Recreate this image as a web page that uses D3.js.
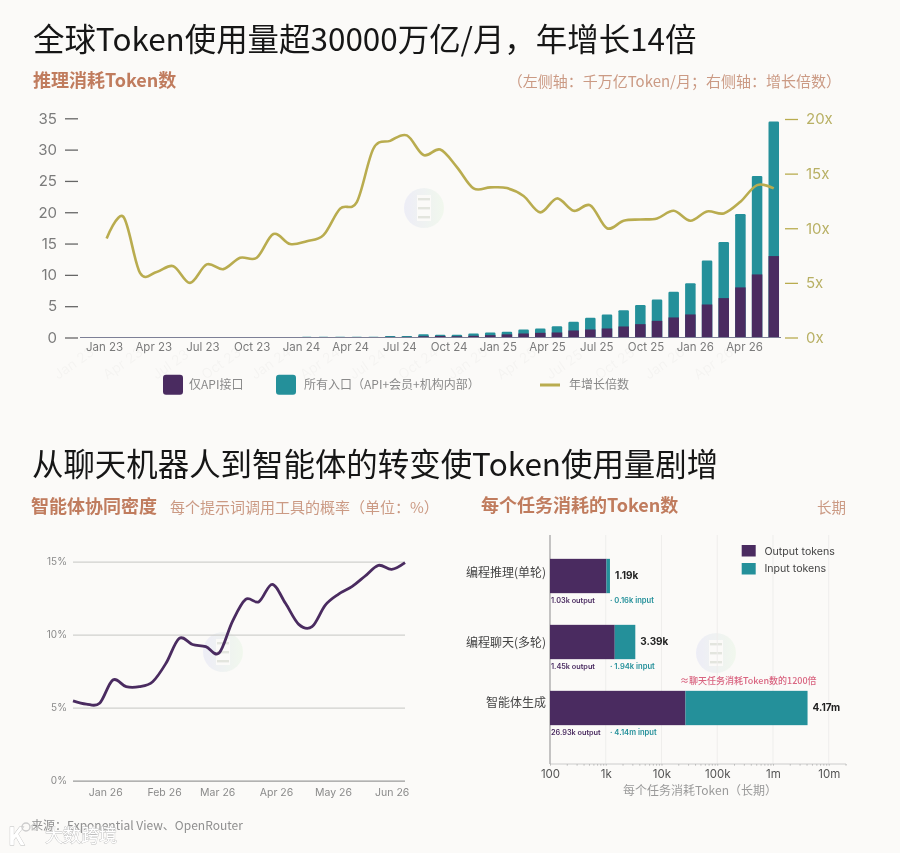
<!DOCTYPE html>
<html lang="zh"><head><meta charset="utf-8">
<script src="https://cdn.jsdelivr.net/npm/d3@7/dist/d3.min.js"></script>
<style>
html,body{margin:0;padding:0;background:#fbfaf8;width:900px;height:853px;overflow:hidden}
svg{display:block;filter:blur(.3px)}
text{font-family:"Noto Sans CJK SC","Noto Sans",sans-serif}
.lat text,text.lat{font-family:Inter,"Noto Sans CJK SC",sans-serif}
.domain{display:none}
</style></head><body><svg id="c" width="900" height="853"></svg>
<script>
// ---- Chart 1: inference tokens
const monthIndex = d3.range(0, 41);
const quarterLabels = ["Jan 23","Apr 23","Jul 23","Oct 23","Jan 24","Apr 24","Jul 24","Oct 24","Jan 25","Apr 25","Jul 25","Oct 25","Jan 26","Apr 26"];
const apiOnly = [0,0,0,0,0,0,0,0,0,0,0,0,.02,.02,.08,.08,.08,.1,.1,.2,.25,.2,.27,.37,.5,.64,.75,.8,1.12,1.28,1.44,1.76,2.13,2.66,3.2,3.68,5.27,6.29,8.0,10.07,13.0];
const allSurfaces = [0,0,0,0,0,0,0,0,0,0,0,0,.1,.1,.12,.12,.12,.25,.25,.5,.42,.42,.64,.8,.9,1.28,1.44,1.8,2.5,3.14,3.68,4.37,5.2,6.07,7.3,8.68,12.3,15.24,19.7,25.8,34.5];
const growthMultiple = [9.07,11.05,5.92,6.0,6.53,5.0,6.69,6.26,7.3,7.3,9.47,8.55,8.82,9.37,11.8,12.4,17.3,18.0,18.5,16.7,17.2,15.6,13.65,13.74,13.68,12.95,11.45,12.73,11.6,12.1,10.0,10.69,10.8,10.9,11.6,10.69,11.54,11.36,12.43,13.95,13.65];
const leftTicks = [0,5,10,15,20,25,30,35];
const rightTicks = [0,5,10,15,20];
// ---- Chart 2: agent density
const weekDates = ["2025-12-15","2025-12-22","2025-12-29","2026-01-05","2026-01-12","2026-01-19","2026-01-26","2026-02-02","2026-02-09","2026-02-16","2026-02-23","2026-03-02","2026-03-09","2026-03-16","2026-03-23","2026-03-30","2026-04-06","2026-04-13","2026-04-20","2026-04-27","2026-05-04","2026-05-11","2026-05-18","2026-05-25","2026-06-01","2026-06-08"];
const toolCallPct = [5.47,5.25,5.3,6.9,6.44,6.44,6.78,8.04,9.75,9.33,9.18,8.74,10.9,12.42,12.26,13.45,12.15,10.71,10.55,12.03,12.78,13.29,14.02,14.75,14.47,14.93];
const monthTicks = ["2026-01-01","2026-02-01","2026-03-01","2026-04-01","2026-05-01","2026-06-01"];
const pctTicks = [0,5,10,15];
// ---- Chart 3: tokens per task
const taskNames = ["编程推理(单轮)","编程聊天(多轮)","智能体生成"];
const outputTokens = [1030,1450,26930];
const totalTokens = [1190,3390,4170000];
const totalLabels = ["1.19k","3.39k","4.17m"];
const outputLabels = ["1.03k output","1.45k output","26.93k output"];
const inputLabels = ["· 0.16k input","· 1.94k input","· 4.14m input"];
const logTicks = [100,1000,10000,100000,1000000,10000000];
const logTickLabels = ["100","1k","10k","100k","1m","10m"];

const PURPLE="#4a2b60", TEAL="#24909a", OLIVE="#b9ac4f", OLIVET="#b8b064", ACC="#c07c5e", ACC2="#cb9a84";
const svg=d3.select("#c");
svg.append("rect").attr("width",900).attr("height",853).attr("fill","#fbfaf8");
const defs=svg.append("defs");
const lg=defs.append("linearGradient").attr("id","wm");
lg.append("stop").attr("offset","0").attr("stop-color","#e9e9f6");
lg.append("stop").attr("offset","1").attr("stop-color","#eef7ea");
function T(x,y,s,o={}){const t=svg.append("text").attr("x",x).attr("y",y).attr("dy",".36em").text(s)
 .attr("font-size",o.size||12).attr("fill",o.fill||"#777").attr("font-weight",o.weight||400).attr("text-anchor",o.anchor||"start");
 if(o.lat)t.attr("class","lat");return t;}
function logo(x,y){const g=svg.append("g").attr("transform",`translate(${x},${y})`).attr("opacity",.75);
 g.append("circle").attr("r",20).attr("fill","url(#wm)");
 g.append("rect").attr("x",-7).attr("y",-13).attr("width",14).attr("height",26).attr("fill","#fbfaf8");
 [-9,0,9].forEach(d=>g.append("rect").attr("x",-6).attr("y",d-1).attr("width",12).attr("height",2.4).attr("fill","#dcded6"));}

// titles
T(33,40,"全球Token使用量超30000万亿/月，年增长14倍",{size:31.45,fill:"#161616"});
T(33,81,"推理消耗Token数",{size:18,fill:ACC,weight:700});
T(841,82,"（左侧轴：千万亿Token/月；右侧轴：增长倍数）",{size:15,fill:ACC2,anchor:"end"});
T(32,465,"从聊天机器人到智能体的转变使Token使用量剧增",{size:31.45,fill:"#161616"});
T(31,507,"智能体协同密度",{size:18,fill:ACC,weight:700});
T(170,508,"每个提示词调用工具的概率（单位：%）",{size:15,fill:ACC2});
T(481,506,"每个任务消耗的Token数",{size:18,fill:ACC,weight:700});
T(846,508,"长期",{size:14.5,fill:ACC2,anchor:"end"});

// ---- chart 1
const yL=d3.scaleLinear().domain([0,35]).range([337.5,118.3]);
const yR=d3.scaleLinear().domain([0,20]).range([337.5,119]);
const xB=d3.scaleBand().domain(monthIndex).range([98.3,782.1]).paddingInner(.37).paddingOuter(.185);
const xQ=d3.scalePoint().domain(quarterLabels).range([104,744]);
logo(424,208);
// rotated ghost labels under the axis
quarterLabels.forEach(l=>svg.append("text").attr("class","lat").attr("transform",`translate(${xQ(l)-46},${380}) rotate(-35)`)
  .attr("font-size",14).attr("fill","#000").attr("opacity",.022).text(l));
const gL=svg.append("g").attr("transform","translate(78,0)").call(d3.axisLeft(yL).tickValues(leftTicks).tickSize(13).tickPadding(8));
gL.selectAll("line").attr("stroke","#666").attr("stroke-width",1.3);
gL.selectAll("text").attr("font-size",15).attr("fill","#7b7b7b").attr("class","lat");
const gR=svg.append("g").attr("transform","translate(785,0)").call(d3.axisRight(yR).tickValues(rightTicks).tickSize(13).tickPadding(8).tickFormat(d=>d+"x"));
gR.selectAll("line").attr("stroke",OLIVE).attr("stroke-width",1.3);
gR.selectAll("text").attr("font-size",15).attr("fill",OLIVET).attr("class","lat");
const gX=svg.append("g").attr("transform","translate(0,337.5)").call(d3.axisBottom(xQ).tickSize(0).tickPadding(5));
gX.selectAll("text").attr("font-size",11.5).attr("fill","#7b7b7b").attr("class","lat");
svg.selectAll(".b1").data(monthIndex).join("rect").attr("class","b1").attr("x",d=>xB(d)).attr("width",xB.bandwidth())
 .attr("y",d=>yL(allSurfaces[d])).attr("height",d=>yL(0)-yL(allSurfaces[d])).attr("fill",TEAL).attr("rx",1.2);
svg.selectAll(".b2").data(monthIndex).join("rect").attr("class","b2").attr("x",d=>xB(d)).attr("width",xB.bandwidth())
 .attr("y",d=>yL(apiOnly[d])).attr("height",d=>yL(0)-yL(apiOnly[d])).attr("fill",PURPLE);
svg.append("line").attr("x1",80).attr("x2",781).attr("y1",337.5).attr("y2",337.5).attr("stroke","#7d7f96").attr("stroke-width",1);
svg.append("path").datum(monthIndex).attr("fill","none").attr("stroke",OLIVE).attr("stroke-width",2.6)
 .attr("d",d3.line().x(d=>xB(d)+xB.bandwidth()/2).y(d=>yR(growthMultiple[d])).curve(d3.curveCatmullRom.alpha(0)));
// legend 1
svg.append("rect").attr("x",163).attr("y",374.7).attr("width",20).attr("height",20).attr("rx",3).attr("fill",PURPLE);
T(189,385,"仅API接口",{size:12,fill:"#8a8a8a"});
svg.append("rect").attr("x",276).attr("y",374.7).attr("width",20).attr("height",20).attr("rx",3).attr("fill",TEAL);
T(304,385,"所有入口（API+会员+机构内部）",{size:12,fill:"#8a8a8a"});
svg.append("line").attr("x1",540).attr("x2",560).attr("y1",385).attr("y2",385).attr("stroke",OLIVE).attr("stroke-width",3);
T(569,385,"年增长倍数",{size:12,fill:"#8a8a8a"});

// ---- chart 2
const parse=d3.utcParse("%Y-%m-%d");
const x2=d3.scaleUtc().domain([parse(weekDates[0]),parse(weekDates[25])]).range([73,405]);
const y2=d3.scaleLinear().domain([0,15]).range([780.7,561.7]);
logo(223,652);
const g2y=svg.append("g").attr("transform","translate(73,0)").call(d3.axisLeft(y2).tickValues(pctTicks).tickSize(-332).tickPadding(6).tickFormat(d=>d+"%"));
g2y.selectAll("line").attr("stroke",d=>d===0?"#9a9a9a":"#d0d0ce").attr("stroke-width",1.3);
g2y.selectAll("text").attr("font-size",10).attr("fill","#8a8a8a").attr("class","lat");
const g2x=svg.append("g").attr("transform","translate(0,780.7)").call(d3.axisBottom(x2).tickValues(monthTicks.map(parse)).tickSize(0).tickPadding(8).tickFormat(d3.utcFormat("%b %y")));
g2x.selectAll("text").attr("font-size",10.5).attr("fill","#8a8a8a").attr("class","lat");
svg.append("path").datum(weekDates).attr("fill","none").attr("stroke",PURPLE).attr("stroke-width",2.8)
 .attr("d",d3.line().x(d=>x2(parse(d))).y((d,i)=>y2(toolCallPct[i])).curve(d3.curveCatmullRom.alpha(0)));
T(31,826,"来源：Exponential View、OpenRouter",{size:12,fill:"#8f8f8f"});

// ---- chart 3
const x3=d3.scaleLog().domain([100,Math.pow(10,7.31)]).range([550,846]);
const y3=d3.scaleBand().domain(taskNames).range([543,741]).paddingInner(.48).paddingOuter(.24);
logo(716,653);
logTicks.forEach(v=>svg.append("line").attr("x1",x3(v)).attr("x2",x3(v)).attr("y1",535).attr("y2",764).attr("stroke","#efeeec").attr("stroke-width",1));
const g3=svg.append("g").attr("transform","translate(0,764)").call(d3.axisBottom(x3).tickValues(logTicks).tickSize(0).tickPadding(6).tickFormat((d,i)=>logTickLabels[i]));
g3.selectAll("text").attr("font-size",11.5).attr("fill","#555").attr("class","lat");
const g3m=svg.append("g").attr("transform","translate(0,764)").call(d3.axisBottom(x3).tickValues(x3.ticks(30)).tickSize(1.5).tickFormat(""));
g3m.selectAll("line").attr("stroke","#aaa");
svg.append("line").attr("x1",550).attr("x2",846).attr("y1",764).attr("y2",764).attr("stroke","#ccc");
svg.append("line").attr("x1",550).attr("x2",550).attr("y1",535).attr("y2",764).attr("stroke","#a9a9a9").attr("stroke-width",1.3);
const catNudge=[-3,1,-5];
taskNames.forEach((n,i)=>{
 const y=y3(n),h=y3.bandwidth();
 svg.append("rect").attr("x",x3(100)).attr("y",y).attr("height",h).attr("width",x3(outputTokens[i])-x3(100)).attr("fill",PURPLE);
 svg.append("rect").attr("x",x3(outputTokens[i])).attr("y",y).attr("height",h).attr("width",x3(totalTokens[i])-x3(outputTokens[i])).attr("fill",TEAL);
 T(546,y+h/2+catNudge[i],n,{size:12,fill:"#444",anchor:"end"});
 T(x3(totalTokens[i])+5,y+h/2-1,totalLabels[i],{size:10,fill:"#222",weight:700,lat:1});
 T(551,y+h+7,outputLabels[i],{size:7.3,fill:PURPLE,weight:600,lat:1});
 T(610,y+h+7,inputLabels[i],{size:7.6,fill:TEAL,weight:600,lat:1});
});
T(680,681,"≈聊天任务消耗Token数的1200倍",{size:9,fill:"#d9637f",weight:500});
T(700,791,"每个任务消耗Token（长期）",{size:12,fill:"#9a9a9a",anchor:"middle"});
svg.append("rect").attr("x",741.7).attr("y",545).attr("width",14).attr("height",11.5).attr("fill",PURPLE);
T(764.5,551,"Output tokens",{size:10.6,fill:"#444",lat:1});
svg.append("rect").attr("x",741.7).attr("y",563).attr("width",14).attr("height",11.5).attr("fill",TEAL);
T(764.5,568.5,"Input tokens",{size:10.6,fill:"#444",lat:1});

// platform watermark
const wm=svg.append("g");
wm.append("text").attr("x",45).attr("y",836).attr("dy",".36em").attr("font-size",18).attr("fill","#fff").attr("stroke","#bdbdbd").attr("stroke-width",.8).attr("paint-order","stroke").text("大数跨境");
wm.append("text").attr("x",8).attr("y",836).attr("dy",".36em").attr("font-size",24).attr("font-weight",700).attr("fill","#fff").attr("stroke","#bdbdbd").attr("stroke-width",.8).attr("paint-order","stroke").text("K");
wm.append("circle").attr("cx",26).attr("cy",827).attr("r",4).attr("fill","none").attr("stroke","#ccc").attr("stroke-width",1.4);
wm.append("circle").attr("cx",35).attr("cy",827).attr("r",3).attr("fill","none").attr("stroke","#ccc").attr("stroke-width",1.2);
</script></body></html>
